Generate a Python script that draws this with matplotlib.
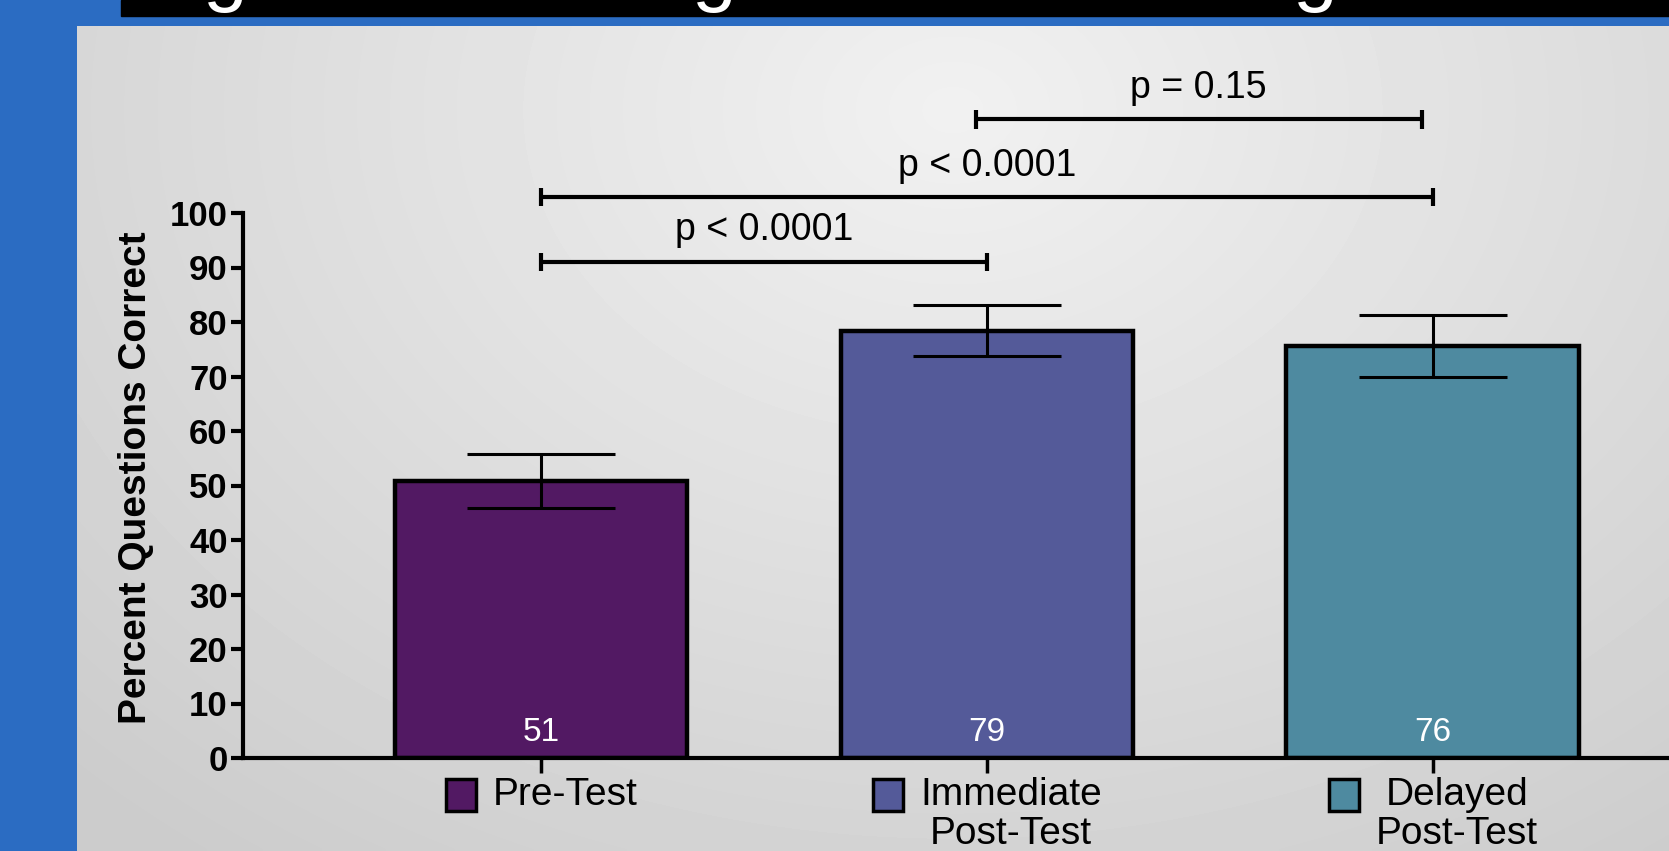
import matplotlib
matplotlib.use('Agg')
import matplotlib.pyplot as plt
import numpy as np
from matplotlib.patches import Rectangle
from matplotlib.offsetbox import AnnotationBbox, HPacker, TextArea, DrawingArea

# data
groups = ['Pre-Test', 'Immediate\nPost-Test', 'Delayed\nPost-Test']
means = [50.8, 78.4, 75.6]
printed = ['51', '79', '76']
errors = [4.9, 4.7, 5.7]
colors = ['#521963', '#545A99', '#4E8AA0']
comparisons = [(0.0, 1.0, 91.0, 'p < 0.0001'),
               (0.0, 2.0, 102.9, 'p < 0.0001'),
               (0.975, 1.975, 117.2, 'p = 0.15')]
yticks = list(range(0, 101, 10))

W, H, DPI = 1669, 851, 100
PT = 72 / DPI  # points per pixel
plt.rcParams['font.family'] = ['Liberation Sans', 'DejaVu Sans']
fig = plt.figure(figsize=(W / DPI, H / DPI), dpi=DPI)
fig.patch.set_facecolor('#2B6CC2')

# slide title band (only descenders visible)
fig.patches.append(Rectangle((121 / W, 1 - 16 / H), 1, 16 / H,
                             transform=fig.transFigure, color='black', zorder=0))
for gx in [225, 714, 1315]:
    fig.text(gx / W, 1 + 4 / H, 'g', color='white', fontsize=58,
             ha='center', va='baseline')

# gray gradient panel
bg = fig.add_axes([77 / W, 0, 1 - 77 / W, 1 - 26 / H], zorder=0)
gx, gy = np.meshgrid(np.linspace(0, 1, 400), np.linspace(0, 1, 200))
r = np.sqrt(((gx - 0.55) / 0.75) ** 2 + ((gy - 0.1) / 1.1) ** 2)
shade = np.clip(0.945 - 0.14 * r, 0.80, 0.95)
bg.imshow(shade, cmap='gray', vmin=0, vmax=1, aspect='auto',
          extent=[0, 1, 1, 0], interpolation='bilinear')
bg.axis('off')

# main axes
x = np.arange(len(groups))
ax_left, ax_bottom, ax_top = 243, 758, 213
ax = fig.add_axes([ax_left / W, (H - ax_bottom) / H, 1 - ax_left / W,
                   (ax_bottom - ax_top) / H], zorder=1)
ax.patch.set_alpha(0)
ax.set_xlim(-0.668, 2.53)
ax.set_ylim(0, 100)

ax.bar(x, means, width=0.656, color=colors, edgecolor='black',
       linewidth=3.2, zorder=2)
ax.errorbar(x, means, yerr=errors, fmt='none', ecolor='black',
            elinewidth=2.2, capsize=53, capthick=2.2, zorder=3)

for xi, lab in zip(x, printed):
    ax.text(xi, 4.6, lab, color='white', fontsize=24, ha='center',
            va='center', zorder=4)

for a, b, h, txt in comparisons:
    ax.plot([a, b], [h, h], color='black', lw=3, clip_on=False,
            solid_capstyle='butt')
    for e in (a, b):
        ax.plot([e, e], [h - 1.7, h + 1.7], color='black', lw=3,
                clip_on=False, solid_capstyle='butt')
    ax.text((a + b) / 2, h + 5.8, txt, fontsize=27, ha='center',
            va='center', clip_on=False)

for s in ['top', 'right']:
    ax.spines[s].set_visible(False)
for s in ['left', 'bottom']:
    ax.spines[s].set_linewidth(3)

ax.set_yticks(yticks)
ax.set_yticklabels([str(t) for t in yticks], fontsize=25, fontweight='bold')
ax.set_xticks(x)
ax.set_xticklabels([])
ax.tick_params(axis='y', length=9, width=3, pad=2)
ax.tick_params(axis='x', length=11, width=2.5)

fig.text(136 / W, 1 - 478 / H, 'Percent Questions Correct', rotation=90,
         fontsize=28, fontweight='bold', ha='center', va='center')

# square + label under each bar
sq_w, sq_h = 33 * PT, 35 * PT
for xi, name, c in zip(x, groups, colors):
    box = DrawingArea(sq_w, sq_h, 0, 0)
    box.add_artist(Rectangle((1.5 * PT, 1.5 * PT), sq_w - 3 * PT, sq_h - 3 * PT,
                             facecolor=c, edgecolor='black', lw=2.5))
    label = TextArea(name, textprops=dict(fontsize=28, multialignment='center',
                                           linespacing=1.12))
    pack = HPacker(children=[box, label], align='top', pad=0, sep=15 * PT)
    ab = AnnotationBbox(pack, (xi, 0), xycoords=('data', 'axes fraction'),
                        xybox=(0, -19), boxcoords='offset pixels',
                        box_alignment=(0.5, 1), frameon=False,
                        annotation_clip=False)
    ax.add_artist(ab)

fig.savefig('out.png', dpi=DPI, facecolor=fig.get_facecolor())
